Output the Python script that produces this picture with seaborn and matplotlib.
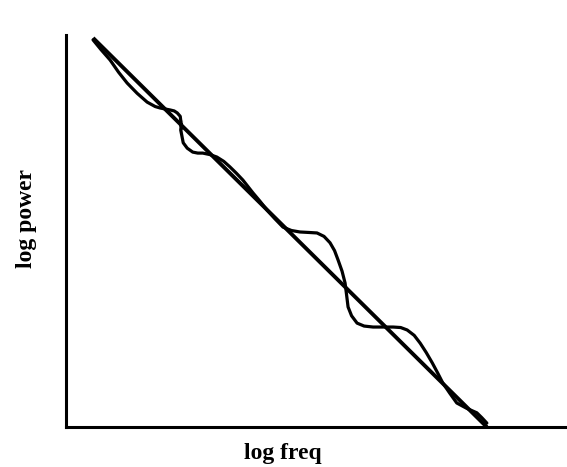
import numpy as np
import pandas as pd
import seaborn as sns
import matplotlib.pyplot as plt

# straight power-law fit (log freq, log power)
fit_x = [0.54, 8.40]
fit_y = [7.94, 0.00]

spec_x = [0.54, 0.70, 0.88, 1.05, 1.22, 1.42, 1.62, 1.78, 1.88, 1.98, 2.08, 2.16, 2.22, 2.28,
          2.31, 2.30, 2.29, 2.31, 2.34, 2.42, 2.53, 2.63, 2.73, 2.87, 3.01, 3.15, 3.27, 3.40,
          3.53, 3.63, 3.73, 3.87, 4.01, 4.17, 4.33, 4.50, 4.67, 4.85, 5.01, 5.15, 5.27, 5.36,
          5.43, 5.51, 5.57, 5.60, 5.63, 5.70, 5.81, 5.95, 6.13, 6.33, 6.53, 6.68, 6.81, 6.95,
          7.07, 7.19, 7.31, 7.42, 7.52, 7.66, 7.80, 8.00, 8.20, 8.30, 8.40]
spec_y = [7.90, 7.70, 7.49, 7.24, 7.02, 6.81, 6.63, 6.54, 6.51, 6.49, 6.47, 6.45, 6.41, 6.34,
          6.27, 6.17, 6.06, 5.93, 5.80, 5.69, 5.61, 5.59, 5.59, 5.56, 5.51, 5.42, 5.31, 5.18,
          5.04, 4.91, 4.78, 4.61, 4.43, 4.25, 4.08, 4.01, 3.98, 3.97, 3.96, 3.89, 3.76, 3.60,
          3.41, 3.18, 2.94, 2.70, 2.45, 2.27, 2.12, 2.06, 2.04, 2.04, 2.04, 2.03, 1.98, 1.87,
          1.71, 1.52, 1.31, 1.10, 0.90, 0.69, 0.49, 0.38, 0.29, 0.19, 0.08]

fit = pd.DataFrame({"log freq": fit_x, "log power": fit_y})
spec = pd.DataFrame({"log freq": spec_x, "log power": spec_y})

sns.set_style("white")
plt.rcParams["font.family"] = ["Liberation Serif", "DejaVu Serif"]

fig = plt.figure(figsize=(5.67, 4.67), dpi=100)
ax = fig.add_axes([66 / 567, 40 / 467, 501 / 567, 392 / 467])

sns.lineplot(data=fit, x="log freq", y="log power", color="black", lw=2.8,
             sort=False, ax=ax, solid_capstyle="butt")
sns.lineplot(data=spec, x="log freq", y="log power", color="black", lw=2.3,
             sort=False, ax=ax, solid_joinstyle="round")

ax.set_xlim(0, 10)
ax.set_ylim(0, 8)
ax.set_xticks([])
ax.set_yticks([])
for side in ["top", "right"]:
    ax.spines[side].set_visible(False)
for side in ["left", "bottom"]:
    ax.spines[side].set_linewidth(2.2)
    ax.spines[side].set_color("black")

ax.set_xlabel("log freq", fontsize=17, fontweight="bold", color="black")
ax.set_ylabel("log power", fontsize=17, fontweight="bold", color="black")
ax.xaxis.set_label_coords(0.433, -0.041)
ax.yaxis.set_label_coords(-0.058, 0.533)

fig.savefig("out.png", dpi=100, facecolor="white")
